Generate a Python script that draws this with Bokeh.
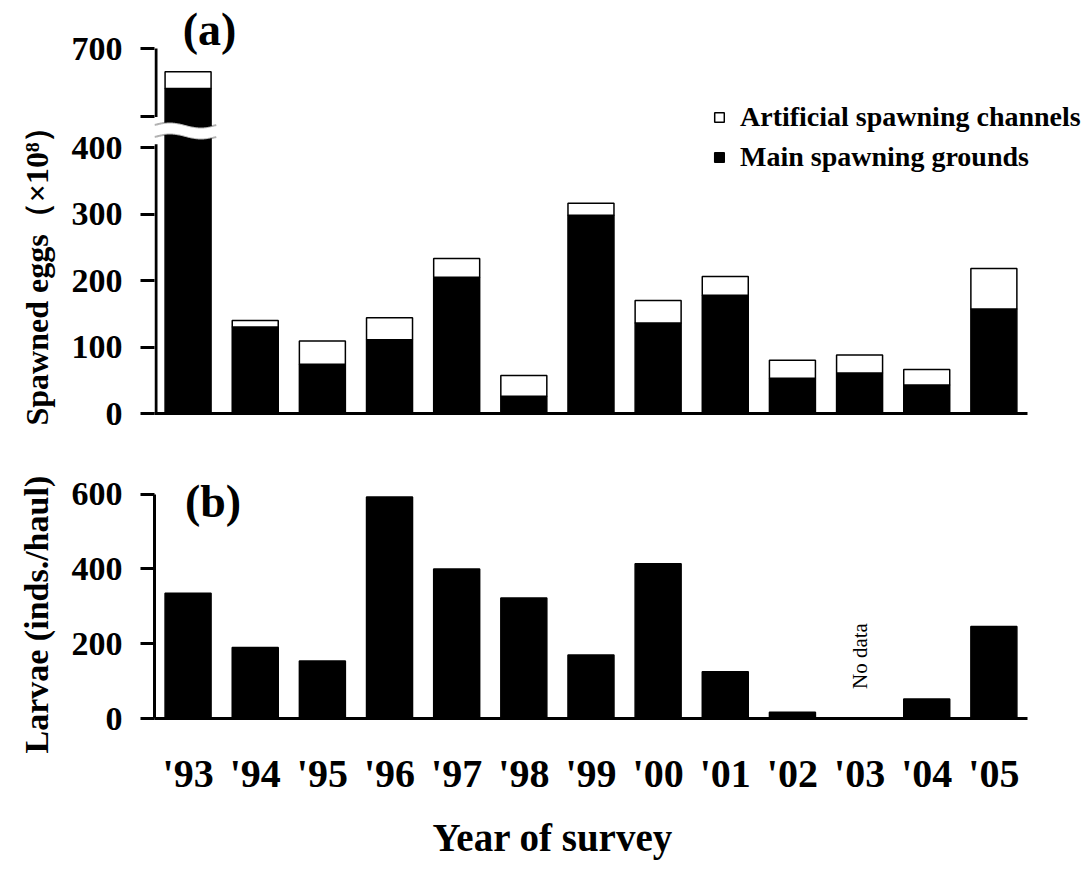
import numpy as np
from bokeh.plotting import figure
from bokeh.models import (Range1d, FixedTicker, ColumnDataSource, Legend,
                          LegendItem, Label, Band, Title)
from bokeh.layouts import column
from bokeh.embed import file_html
from bokeh.resources import INLINE

# ---------------- data ----------------
years = ["'93", "'94", "'95", "'96", "'97", "'98", "'99",
         "'00", "'01", "'02", "'03", "'04", "'05"]
main_grounds = [640, 130, 74, 111, 205, 26, 298, 136, 178, 53, 61, 43, 157]
artificial_channels = [25, 10, 35, 33, 28, 31, 18, 34, 28, 27, 27, 23, 61]
larvae = [335, 190, 154, 592, 400, 322, 170, 414, 125, 17, None, 52, 246]
eggs_ticks_low = [0, 100, 200, 300, 400]
eggs_ticks_high = [597, 700]
larvae_ticks = [0, 200, 400, 600]

# ---------------- layout constants ----------------
SERIF = "Liberation Serif"
W = 1092
PX_A = 0.665          # pixels per unit, panel (a)
PX_B = 0.38           # pixels per unit, panel (b)
PX_X = 67.15          # pixels per year
BAR_W = 0.685
LEFT = 154            # page x of the y axes / frames

A_H, A_FRAME = 440, 413          # panel (a): frame from page top to baseline
B_H, B_TOP, B_BOT = 434, 30, 152
B_FRAME = B_H - B_TOP - B_BOT

n = len(years)
x_pos = list(range(1, n + 1))
x_end = 0.5 + (W - LEFT) / PX_X

# panel (a) scales: lower segment in its own units, upper segment offset
HIGH_END = eggs_ticks_high[-1]
LOW_END = A_FRAME / PX_A                       # lower-scale value at frame top
OFFSET = HIGH_END - (A_FRAME - 48) / PX_A      # upper value = lower value + OFFSET
LOW_CUT = round((A_FRAME - 130) / PX_A, 1)     # top of the lower bars
HIGH_CUT = round(HIGH_END - (129 - 48) / PX_A, 1)  # bottom of the upper bars
LOW_AXIS_TOP = 405


def base_fig(height, top, bottom, y_range):
    p = figure(width=W, height=height, x_range=Range1d(0.5, x_end),
               y_range=y_range, output_backend="svg", toolbar_location=None,
               min_border_left=LEFT, min_border_right=0,
               min_border_top=top, min_border_bottom=bottom)
    p.grid.visible = False
    p.outline_line_color = None
    p.background_fill_color = "white"
    p.border_fill_color = "white"
    return p


def style_y(ax, ticks, bounds=None):
    ax.ticker = FixedTicker(ticks=ticks)
    if bounds is not None:
        ax.bounds = bounds
    ax.axis_line_width = 3
    ax.axis_line_color = "black"
    ax.major_tick_line_width = 3
    ax.major_tick_line_color = "black"
    ax.major_tick_out = 14
    ax.major_tick_in = 0
    ax.minor_tick_line_color = None
    ax.major_label_text_font = SERIF
    ax.major_label_text_font_style = "bold"
    ax.major_label_text_font_size = "34px"
    ax.major_label_text_color = "black"
    ax.major_label_standoff = 18


def style_baseline(ax):
    ax.bounds = (0.5, n + 0.5)
    ax.axis_line_width = 3
    ax.axis_line_color = "black"
    ax.major_tick_line_color = None
    ax.minor_tick_line_color = None
    ax.major_tick_out = 0
    ax.major_tick_in = 0


def side_title(text, offset, standoff, size):
    return Title(text=text, align="left", offset=offset, standoff=standoff,
                 text_font=SERIF, text_font_style="bold",
                 text_font_size=size, text_color="black")


# ---------------- panel (a) ----------------
pa = base_fig(A_H, 0, A_H - A_FRAME, Range1d(0, LOW_END))
pa.extra_y_ranges = {"upper": Range1d(OFFSET, LOW_END + OFFSET)}

main_a = np.array(main_grounds, dtype=float)
total_a = main_a + np.array(artificial_channels, dtype=float)
low_main_top = np.minimum(main_a, LOW_CUT)
low_art_top = np.minimum(total_a, LOW_CUT)
low_art_top = np.where(low_art_top > low_main_top, low_art_top, np.nan)
hi_main_top = np.where(main_a > HIGH_CUT, main_a, np.nan)
hi_art_bot = np.maximum(main_a, HIGH_CUT)
hi_art_top = np.where(total_a > HIGH_CUT, total_a, np.nan)

src_a = ColumnDataSource(dict(x=x_pos, low_main_top=low_main_top,
                              low_art_top=low_art_top,
                              hi_main_top=hi_main_top, hi_art_bot=hi_art_bot,
                              hi_art_top=hi_art_top,
                              hi_cut=[HIGH_CUT] * n))
r_main = pa.vbar(x="x", bottom=0, top="low_main_top", width=BAR_W, source=src_a,
                 fill_color="black", line_color="black", line_width=1.5)
r_art = pa.vbar(x="x", bottom="low_main_top", top="low_art_top", width=BAR_W,
                source=src_a, fill_color="white", line_color="black", line_width=1.5)
pa.vbar(x="x", bottom="hi_cut", top="hi_main_top", width=BAR_W, source=src_a,
        fill_color="black", line_color="black", line_width=1.5, y_range_name="upper")
pa.vbar(x="x", bottom="hi_art_bot", top="hi_art_top", width=BAR_W, source=src_a,
        fill_color="white", line_color="black", line_width=1.5, y_range_name="upper")

# y axis: lower ticks plus the upper segment's ticks placed through the offset;
# its line is drawn as two segments so that the break shows
ticks_disp = eggs_ticks_low + [round(v - OFFSET, 2) for v in eggs_ticks_high]
ya = pa.yaxis[0]
style_y(ya, ticks_disp, bounds=(0, ticks_disp[-1]))
ya.axis_line_color = None
ya.major_label_overrides = {round(v - OFFSET, 2): (str(v) if v == HIGH_END else "")
                            for v in eggs_ticks_high}
axis_x = 0.5 + 1.5 / PX_X
pa.segment(x0=[axis_x], y0=[0], x1=[axis_x], y1=[LOW_AXIS_TOP],
           line_color="black", line_width=3)
pa.segment(x0=[axis_x], y0=[eggs_ticks_high[0]], x1=[axis_x], y1=[HIGH_END],
           line_color="black", line_width=3, y_range_name="upper")
pa.add_layout(side_title("Spawned eggs\uff08\u00d710\u2078\uff09", -12, 27, "32px"),
              "left")

pa.xaxis[0].ticker = FixedTicker(ticks=[])
style_baseline(pa.xaxis[0])

# axis break: wavy double line with white between
wx = np.linspace(0.5, 1.42, 80)
wt = (wx - wx[0]) / (wx[-1] - wx[0])
amp = 2.5 / PX_A
w_up = (A_FRAME - 124.5) / PX_A + amp * np.sin(2 * np.pi * wt)
w_lo = (A_FRAME - 136.5) / PX_A + amp * np.sin(2 * np.pi * wt)
pa.add_layout(Band(base="x", lower="lo", upper="up",
                   source=ColumnDataSource(dict(x=wx, lo=w_lo, up=w_up)),
                   fill_color="white", fill_alpha=1, line_color="black",
                   line_width=2, level="overlay"))

leg = Legend(items=[LegendItem(label="Artificial spawning channels", renderers=[r_art]),
                    LegendItem(label="Main spawning grounds", renderers=[r_main])],
             location=(559, 240))
leg.label_text_font = SERIF
leg.label_text_font_style = "bold"
leg.label_text_font_size = "28px"
leg.label_text_color = "black"
leg.glyph_width = 12
leg.glyph_height = 12
leg.label_standoff = 15
leg.padding = 0
leg.margin = 0
leg.spacing = 8
leg.label_height = 20
leg.border_line_color = None
leg.background_fill_alpha = 0
pa.add_layout(leg)

pa.add_layout(Label(x=0.5 + (209 - LEFT) / PX_X, y=HIGH_END + 19 / PX_A,
                    y_range_name="upper", text="(a)",
                    text_font=SERIF, text_font_style="bold",
                    text_font_size="46px", text_align="center",
                    text_baseline="middle", text_color="black"))

# ---------------- panel (b) ----------------
pb = base_fig(B_H, B_TOP, B_BOT, Range1d(0, B_FRAME / PX_B))
src_b = ColumnDataSource(dict(x=x_pos,
                              larvae=[np.nan if v is None else v for v in larvae]))
pb.vbar(x="x", top="larvae", width=BAR_W, source=src_b,
        fill_color="black", line_color="black", line_width=1.5)
style_y(pb.yaxis[0], larvae_ticks, bounds=(0, larvae_ticks[-1]))
pb.add_layout(side_title("Larvae (inds./haul)", -35, 27, "34px"), "left")

xa = pb.xaxis[0]
style_baseline(xa)
xa.ticker = FixedTicker(ticks=x_pos)
xa.major_label_overrides = {x: y for x, y in zip(x_pos, years)}
xa.major_label_standoff = 32
xa.major_label_text_font = SERIF
xa.major_label_text_font_style = "bold"
xa.major_label_text_font_size = "40px"
xa.major_label_text_color = "black"
pb.add_layout(side_title("Year of survey", 278, 31, "39px"), "below")

pb.add_layout(Label(x=0.5 + (212.5 - LEFT) / PX_X, y=(B_H - B_BOT - 501 + 440) / PX_B,
                    text="(b)", text_font=SERIF, text_font_style="bold",
                    text_font_size="46px", text_align="center",
                    text_baseline="middle", text_color="black"))

nd_x = x_pos[larvae.index(None)]
pb.add_layout(Label(x=nd_x, y=79, text="No data", angle=np.pi / 2,
                    text_font=SERIF, text_font_size="21px",
                    text_align="left", text_baseline="middle",
                    text_color="black"))

layout = column(pa, pb, spacing=0)
open("out.html", "w").write(file_html(layout, INLINE))
